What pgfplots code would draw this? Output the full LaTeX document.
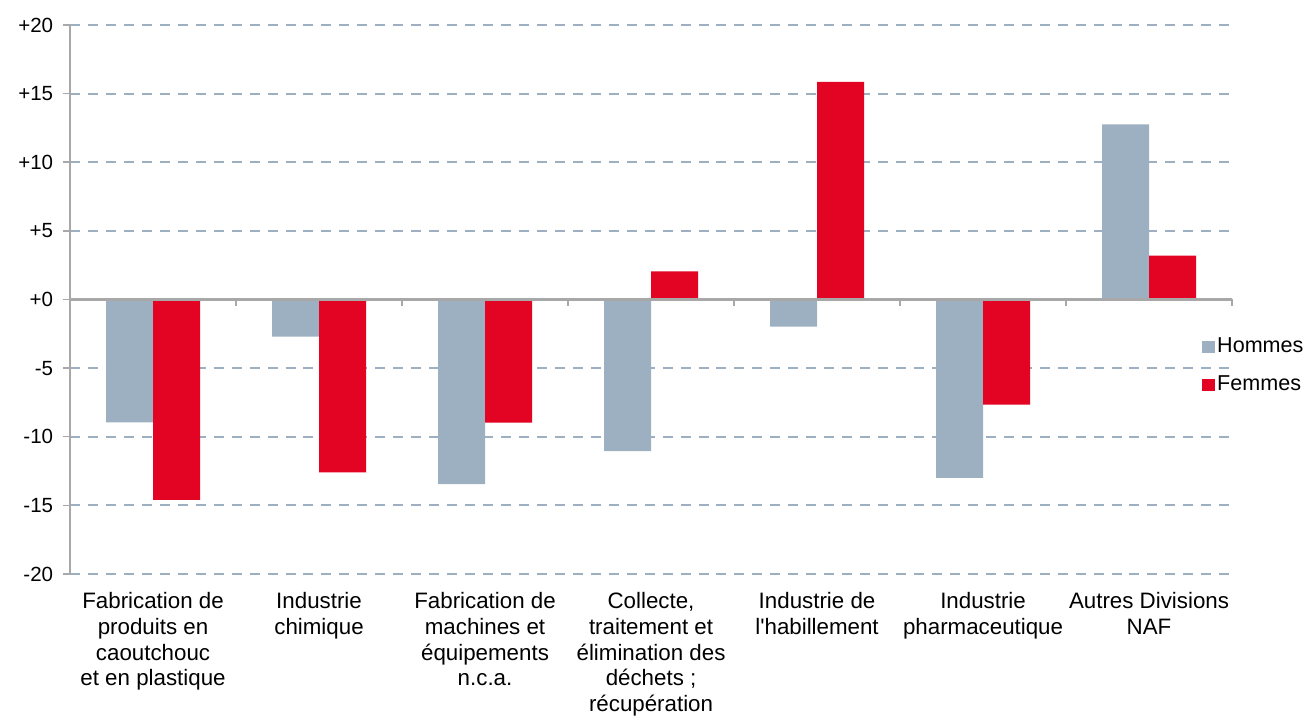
\documentclass[border=0pt]{standalone}
\usepackage{pgfplots}
\pgfplotsset{compat=1.18}
\usepackage{fontspec}
\setmainfont{Liberation Sans}
\definecolor{hom}{HTML}{9CB0C1}
\definecolor{fem}{HTML}{E20422}
\definecolor{gridc}{HTML}{9DB0C2}
\definecolor{axc}{HTML}{A8A8A8}

\begin{document}
\begin{tikzpicture}
\begin{axis}[
  name=ax,
  scale only axis,width=453pt,height=214pt,
  ybar=0pt,bar width=0.283,
  xmin=-0.5,xmax=6.5,ymin=-20,ymax=20,
  axis y line*=left,axis x line*=bottom,
  x axis line style={draw=none},
  y axis line style={draw=axc,line width=0.6pt},
  ytick={-20,-15,...,20},
  yticklabels={-20,-15,-10,-5,+0,+5,+10,+15,+20},
  ytick style={draw=axc,line width=0.6pt},
  tick align=outside,major tick length=2.8pt,
  xtick={0,...,6},x tick style={draw=none},
  xticklabels={
    {Fabrication de\\produits en\\caoutchouc\\et en plastique},
    {Industrie\\chimique},
    {Fabrication de\\machines et\\équipements\\n.c.a.},
    {Collecte,\\traitement et\\élimination des\\déchets ;\\récupération},
    {Industrie de\\l\textquotesingle habillement},
    {Industrie\\pharmaceutique},
    {Autres Divisions\\NAF}},
  xticklabel style={align=center,font=\fontsize{8.7}{10}\selectfont,anchor=north,yshift=-1pt},
  yticklabel style={font=\fontsize{8}{9.6}\selectfont,anchor=east,inner sep=0pt,xshift=-3.6pt},
  /pgf/number format/assume math mode=true,
  ymajorgrids=true,
  grid style={gridc,line width=0.8pt,dash pattern=on 3.9pt off 3.1pt},
  clip=false,
  legend style={at={(0.974,0.436)},anchor=north west,draw=none,fill=none,
    inner sep=0pt,row sep=5.5pt,font=\fontsize{8.4}{9.6}\selectfont,
    nodes={inner sep=1pt,anchor=west,xshift=1pt}},
  legend image code/.code={\fill[#1] (0pt,-2.4pt) rectangle (4.8pt,2.4pt);},
]
\addplot[fill=hom,draw=none] coordinates {
  (0,-8.95) (1,-2.7) (2,-13.46) (3,-11.05) (4,-1.97) (5,-13.0) (6,12.76)};
\addplot[fill=fem,draw=none] coordinates {
  (0,-14.6) (1,-12.6) (2,-8.98) (3,2.04) (4,15.85) (5,-7.67) (6,3.19)};
\legend{Hommes,Femmes}
\draw[axc,line width=0.9pt] (axis cs:-0.5,0) -- (axis cs:6.5,0);
\pgfplotsinvokeforeach{-0.5,0.5,1.5,2.5,3.5,4.5,5.5,6.5}{
  \draw[axc,line width=0.6pt] (axis cs:#1,0) -- ([yshift=-2.6pt]axis cs:#1,0);
}
\end{axis}
\path ([xshift=-27.3pt,yshift=-54.6pt]ax.south west) rectangle ([xshift=30pt,yshift=9.75pt]ax.north east);
\end{tikzpicture}
\end{document}
